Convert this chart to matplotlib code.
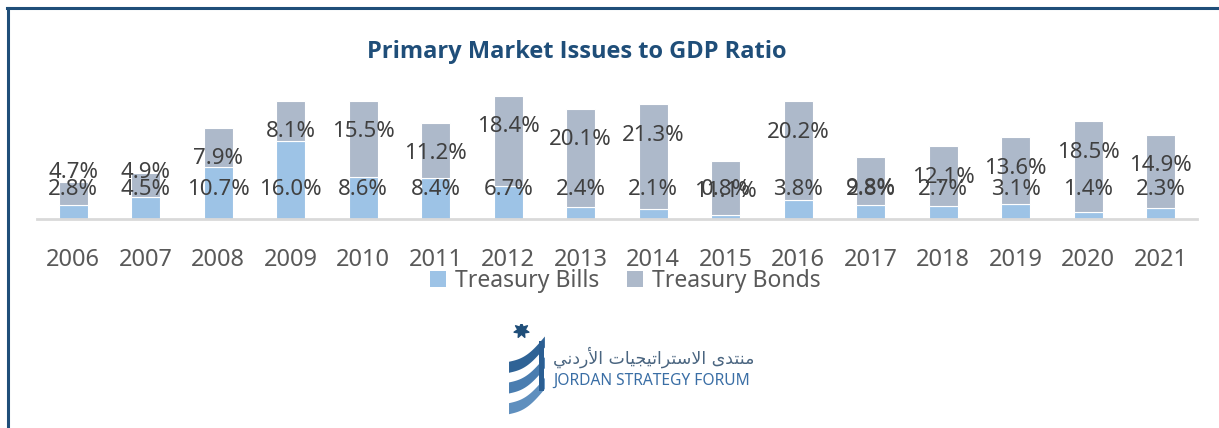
import matplotlib
matplotlib.use("Agg")
import matplotlib.pyplot as plt
import numpy as np
from matplotlib.lines import Line2D
from matplotlib.patches import Patch

plt.rcParams.update({"font.family": ["Noto Sans", "DejaVu Sans"]})

# data
years = ["2006", "2007", "2008", "2009", "2010", "2011", "2012", "2013",
         "2014", "2015", "2016", "2017", "2018", "2019", "2020", "2021"]
bills = [2.8, 4.5, 10.7, 16.0, 8.6, 8.4, 6.7, 2.4, 2.1, 0.8, 3.8, 2.8, 2.7, 3.1, 1.4, 2.3]
bonds = [4.7, 4.9, 7.9, 8.1, 15.5, 11.2, 18.4, 20.1, 21.3, 11.1, 20.2, 9.8, 12.1, 13.6, 18.5, 14.9]

BILL_C = "#9DC3E6"
BOND_C = "#ADB9CA"
DARK = "#1F4E79"

W, H = 1219, 428
fig = plt.figure(figsize=(W / 100, H / 100), dpi=100)

ax = fig.add_axes([37 / W, 1 - 219 / H, (1197 - 37) / W, (219 - 72) / H])
x = np.arange(len(years))
ax.bar(x, bills, width=0.4, color=BILL_C, edgecolor="white", linewidth=0.8, label="Treasury Bills")
ax.bar(x, bonds, width=0.4, bottom=bills, color=BOND_C, edgecolor="white", linewidth=0.8,
       label="Treasury Bonds")

ax.set_xlim(-0.5, len(years) - 0.5)
ax.set_ylim(0, 30)
ax.set_xticks(x)
ax.set_xticklabels(years, fontsize=17, color="#595959")
ax.tick_params(axis="x", length=0, pad=21)
ax.set_yticks([])
for s in ["top", "right", "left"]:
    ax.spines[s].set_visible(False)
ax.spines["bottom"].set_color("#D9D9D9")
ax.spines["bottom"].set_linewidth(2)

# data labels (Excel-like placement)
BILL_LABEL_Y = 6.1
for i, (b, d) in enumerate(zip(bills, bonds)):
    total = b + d
    ax.text(i, BILL_LABEL_Y, f"{b:.1f}%", ha="center", va="center", fontsize=16, color="#404040")
    yb = total - 6.3 if total > 11 else BILL_LABEL_Y + 3.3
    ax.text(i, yb, f"{d:.1f}%", ha="center", va="center", fontsize=16, color="#404040")

# title
fig.text(577 / W, 1 - 52 / H, "Primary Market Issues to GDP Ratio", ha="center", va="center",
         fontsize=17, fontweight="bold", color=DARK, family=["Open Sans", "DejaVu Sans"])

# legend
handles = [Patch(facecolor=BILL_C, label="Treasury Bills"),
           Patch(facecolor=BOND_C, label="Treasury Bonds")]
fig.legend(handles=handles, loc="center", bbox_to_anchor=(625 / W, 1 - 281 / H), ncol=2,
           frameon=False, fontsize=16.5, handlelength=0.7, handleheight=0.7,
           handletextpad=0.4, columnspacing=1.2, labelcolor="#595959", borderpad=0)

# frame lines
fig.add_artist(Line2D([7 / W, 1], [1 - 7.5 / H, 1 - 7.5 / H], color=DARK, lw=2.2))
fig.add_artist(Line2D([8 / W, 8 / W], [0, 1 - 7.5 / H], color=DARK, lw=2.2))

# logo
lax = fig.add_axes([503 / W, 1 - 416 / H, 46 / W, 92 / H])
lax.set_xlim(0, 1)
lax.set_ylim(0, 2.0)
lax.axis("off")
lax.scatter([0.4], [1.88], marker=(7, 1, 0), s=120, color=DARK)
t = np.linspace(0, 1, 60)
xs = 0.12 + 0.78 * t
for k, c in enumerate(["#5F8FBE", "#4A7DB0", "#2F6396"]):
    y0 = 0.05 + k * 0.45
    low = y0 + 0.55 * t - 0.12 * np.sin(np.pi * t)
    lax.fill_between(xs, low, low + 0.24, color=c, lw=0)
lax.fill_between([0.78, 0.9], [0.55, 0.55], [1.62, 1.62], color="#2B5E92", lw=0)

arabic = ("\uFEF2\uFEE7\uFEA9\uFEAD\uFEF7\uFE8D "
          "\uFE95\uFE8E\uFEF4\uFEA0\uFEF4\uFE97\uFE8D\uFEAE\uFE98\uFEB3\uFEFB\uFE8D "
          "\uFEEF\uFEAA\uFE98\uFEE8\uFEE3")
fig.text(553 / W, 1 - 357 / H, arabic, ha="left", va="center", fontsize=12.5,
         color="#4A6580", family="DejaVu Sans")
fig.text(553 / W, 1 - 381 / H, "JORDAN STRATEGY FORUM", ha="left", va="center", fontsize=11.2,
         color="#3A6EA5")

fig.savefig("out.png", dpi=100)
